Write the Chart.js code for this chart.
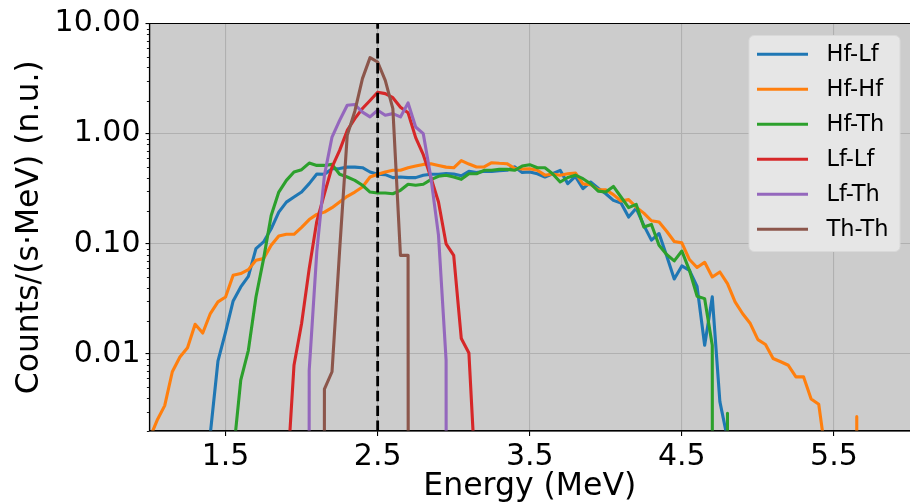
<!DOCTYPE html>
<html><head><meta charset="utf-8">
<script src="https://cdn.jsdelivr.net/npm/chart.js@4.4.0/dist/chart.umd.min.js"></script>
<style>html,body{margin:0;padding:0;background:#fff;}canvas{display:block;}</style>
</head><body>
<canvas id="c" width="910" height="504"></canvas>
<script>
// ---- data ----
const energies = [
  1.00,1.05,1.10,1.15,1.20,1.25,1.30,1.35,1.40,1.45,
  1.50,1.55,1.60,1.65,1.70,1.75,1.80,1.85,1.90,1.95,
  2.00,2.05,2.10,2.15,2.20,2.25,2.30,2.35,2.40,2.45,
  2.50,2.55,2.60,2.65,2.70,2.75,2.80,2.85,2.90,2.95,
  3.00,3.05,3.10,3.15,3.20,3.25,3.30,3.35,3.40,3.45,
  3.50,3.55,3.60,3.65,3.70,3.75,3.80,3.85,3.90,3.95,
  4.00,4.05,4.10,4.15,4.20,4.25,4.30,4.35,4.40,4.45,
  4.50,4.55,4.60,4.65,4.70,4.75,4.80,4.85,4.90,4.95,
  5.00,5.05,5.10,5.15,5.20,5.25,5.30,5.35,5.40,5.45,
  5.50,5.55,5.60,5.65,5.70,5.75,5.80,5.85,5.90,5.95
];
const hfLf = [
  0,0,0,0,0,0,0,0,0.0019,0.0086,
  0.0158,0.0303,0.0406,0.0507,0.0904,0.104,0.137,0.194,0.239,0.266,
  0.295,0.352,0.430,0.428,0.480,0.482,0.497,0.497,0.491,0.449,
  0.428,0.425,0.399,0.404,0.399,0.399,0.419,0.428,0.428,0.434,
  0.430,0.415,0.455,0.443,0.455,0.455,0.461,0.465,0.500,0.445,
  0.449,0.433,0.404,0.433,0.465,0.352,0.410,0.317,0.364,0.320,
  0.285,0.248,0.235,0.175,0.210,0.147,0.108,0.124,0.078,0.048,
  0.063,0.0575,0.041,0.012,0.033,0.0037,0.0017,0,0,0,
  0,0,0,0,0,0,0,0,0,0,
  0,0,0,0,0,0,0,0,0,0
];
const hfHf = [
  0.0017,0.0025,0.0034,0.0069,0.0094,0.0114,0.0186,0.0155,0.0233,0.0297,
  0.0329,0.0518,0.0537,0.0583,0.0709,0.0734,0.097,0.118,0.122,0.122,
  0.141,0.166,0.185,0.194,0.213,0.240,0.270,0.295,0.328,0.404,
  0.428,0.449,0.465,0.465,0.491,0.508,0.526,0.534,0.515,0.497,
  0.490,0.570,0.530,0.498,0.500,0.545,0.538,0.534,0.485,0.478,
  0.481,0.465,0.420,0.430,0.420,0.433,0.440,0.350,0.345,0.310,
  0.310,0.280,0.245,0.252,0.215,0.190,0.162,0.158,0.130,0.105,
  0.102,0.072,0.061,0.068,0.050,0.0555,0.0435,0.0297,0.0232,0.0189,
  0.0135,0.0122,0.0091,0.0085,0.0079,0.0062,0.0062,0.0039,0.0035,0.0011,
  0,0,0,0.0027,0,0,0,0,0,0
];
const hfTh = [
  0,0,0,0,0,0,0,0,0,0,
  0,0.0012,0.0058,0.0108,0.0329,0.073,0.181,0.295,0.377,0.449,
  0.471,0.541,0.515,0.515,0.526,0.428,0.404,0.377,0.340,0.295,
  0.289,0.289,0.285,0.306,0.347,0.340,0.347,0.383,0.410,0.419,
  0.404,0.385,0.433,0.433,0.465,0.465,0.474,0.474,0.465,0.508,
  0.523,0.490,0.490,0.433,0.364,0.400,0.420,0.390,0.351,0.301,
  0.295,0.332,0.266,0.213,0.228,0.142,0.150,0.097,0.080,0.070,
  0.086,0.0575,0.0335,0.0318,0.012,0,0.0029,0,0,0,
  0,0,0,0,0,0,0,0,0,0,
  0,0,0,0,0,0,0,0,0,0
];
const lfLf = [
  0,0,0,0,0,0,0,0,0,0,
  0,0,0,0,0,0,0,0,0.0006,0.0079,
  0.0189,0.0596,0.160,0.285,0.497,0.705,1.07,1.37,1.69,2.00,
  2.38,2.31,2.12,1.74,1.55,0.92,0.645,0.40,0.24,0.10,
  0.0787,0.0138,0.0102,0.0005,0,0,0,0,0,0,
  0,0,0,0,0,0,0,0,0,0,
  0,0,0,0,0,0,0,0,0,0,
  0,0,0,0,0,0,0,0,0,0,
  0,0,0,0,0,0,0,0,0,0,
  0,0,0,0,0,0,0,0,0,0
];
const lfTh = [
  0,0,0,0,0,0,0,0,0,0,
  0,0,0,0,0,0,0,0,0,0,
  0,0.0071,0.085,0.419,0.932,1.32,1.81,1.84,1.57,1.42,
  1.63,1.47,1.52,1.42,1.90,1.15,1.00,0.40,0.12,0.0088,
  0,0,0,0,0,0,0,0,0,0,
  0,0,0,0,0,0,0,0,0,0,
  0,0,0,0,0,0,0,0,0,0,
  0,0,0,0,0,0,0,0,0,0,
  0,0,0,0,0,0,0,0,0,0,
  0,0,0,0,0,0,0,0,0,0
];
const thTh = [
  0,0,0,0,0,0,0,0,0,0,
  0,0,0,0,0,0,0,0,0,0,
  0,0,0,0.0048,0.0069,0.0873,0.965,1.60,3.16,4.90,
  4.47,3.05,1.69,0.0786,0.0786,0,0,0,0,0,
  0,0,0,0,0,0,0,0,0,0,
  0,0,0,0,0,0,0,0,0,0,
  0,0,0,0,0,0,0,0,0,0,
  0,0,0,0,0,0,0,0,0,0,
  0,0,0,0,0,0,0,0,0,0,
  0,0,0,0,0,0,0,0,0,0
];
const seriesNames = ['Hf-Lf','Hf-Hf','Hf-Th','Lf-Lf','Lf-Th','Th-Th'];
const seriesValues = [hfLf, hfHf, hfTh, lfLf, lfTh, thTh];
const xTicks = [1.5, 2.5, 3.5, 4.5, 5.5];
const yTicks = [0.01, 0.1, 1, 10];
const refEnergy = 2.5;

// ---- styles ----
const seriesColors = ['#1f77b4','#ff7f0e','#2ca02c','#d62728','#9467bd','#8c564b'];
const FONT = 'DejaVu Sans';
const LW = 3.1;
const CLIPPED = 1e-100; // non-positive values are clipped far below the log axis (as matplotlib does)

const datasets = seriesNames.map((name, i) => ({
  label: name,
  data: energies.map((e, j) => ({ x: e, y: seriesValues[i][j] > 0 ? seriesValues[i][j] : CLIPPED })),
  borderColor: seriesColors[i],
  backgroundColor: seriesColors[i],
  borderWidth: LW,
  pointRadius: 0,
  pointHoverRadius: 0,
  fill: false,
  tension: 0,
  borderJoinStyle: 'round',
  borderCapStyle: 'butt',
  order: seriesNames.length - i,
  clip: 0
}));

const decor = {
  id: 'decor',
  beforeDraw(chart) {
    const { ctx, chartArea: a } = chart;
    ctx.save();
    ctx.fillStyle = '#cccccc';
    ctx.fillRect(a.left, a.top, a.right - a.left, a.bottom - a.top);
    ctx.restore();
  },
  afterDatasetsDraw(chart) {
    const { ctx, chartArea: a, scales } = chart;
    const x = scales.x.getPixelForValue(refEnergy);
    ctx.save();
    ctx.strokeStyle = '#000';
    ctx.lineWidth = 2.8;
    ctx.setLineDash([10.4, 4.5]);
    ctx.beginPath();
    ctx.moveTo(x, a.bottom);
    ctx.lineTo(x, a.top);
    ctx.stroke();
    ctx.restore();
  },
  afterDraw(chart) {
    const { ctx, chartArea: a, scales } = chart;
    ctx.save();
    // frame (top + left + bottom spines)
    ctx.strokeStyle = '#000';
    ctx.lineWidth = 1.2;
    ctx.beginPath();
    ctx.moveTo(a.left, a.bottom); ctx.lineTo(a.left, a.top); ctx.lineTo(a.right, a.top);
    ctx.moveTo(a.left, a.bottom); ctx.lineTo(a.right, a.bottom);
    ctx.stroke();
    // minor log ticks
    ctx.lineWidth = 0.9;
    const ys = scales.y;
    for (let d = -3; d <= 1; d++) {
      for (let m = 2; m <= 9; m++) {
        const v = m * Math.pow(10, d);
        if (v < ys.min || v > ys.max) continue;
        const py = Math.round(ys.getPixelForValue(v)) + 0.5;
        ctx.beginPath();
        ctx.moveTo(a.left - 2.6, py); ctx.lineTo(a.left, py);
        ctx.stroke();
      }
    }
    // legend
    const bx = 749, by = 35.5, bw = 151, bh = 216, r = 5;
    ctx.beginPath();
    ctx.moveTo(bx + r, by);
    ctx.arcTo(bx + bw, by, bx + bw, by + bh, r);
    ctx.arcTo(bx + bw, by + bh, bx, by + bh, r);
    ctx.arcTo(bx, by + bh, bx, by, r);
    ctx.arcTo(bx, by, bx + bw, by, r);
    ctx.closePath();
    ctx.fillStyle = '#e6e6e6';
    ctx.fill();
    ctx.strokeStyle = '#d9d9d9';
    ctx.lineWidth = 1;
    ctx.stroke();
    ctx.font = '22.5px "' + FONT + '"';
    ctx.textBaseline = 'middle';
    ctx.textAlign = 'left';
    chart.data.datasets.forEach((ds, i) => {
      const ly = 54.3 + 35 * i;
      ctx.strokeStyle = ds.borderColor;
      ctx.lineWidth = LW;
      ctx.beginPath();
      ctx.moveTo(757, ly); ctx.lineTo(808, ly);
      ctx.stroke();
      ctx.fillStyle = '#000';
      ctx.fillText(ds.label, 826.5, ly + 1);
    });
    ctx.restore();
  }
};

new Chart(document.getElementById('c'), {
  type: 'line',
  data: { datasets },
  options: {
    responsive: false,
    devicePixelRatio: 1,
    animation: false,
    events: [],
    layout: { padding: { top: 23.5, right: -3, bottom: 0, left: 0 } },
    plugins: { legend: { display: false }, tooltip: { enabled: false } },
    scales: {
      x: {
        type: 'linear', min: 1.0, max: 6.0,
        afterBuildTicks: s => { s.ticks = xTicks.map(v => ({ value: v })); },
        afterFit: s => { s.height = 73; },
        ticks: { callback: v => Number(v).toFixed(1), font: { family: FONT, size: 30 }, color: '#000', padding: 3.5, maxRotation: 0, autoSkip: false },
        grid: { color: '#b0b0b0', lineWidth: 1.1, tickColor: '#000', tickLength: 5, tickWidth: 1.1 },
        border: { color: '#000', width: 1.2 },
        title: { display: true, text: 'Energy (MeV)', font: { family: FONT, size: 31.5 }, color: '#000', padding: { top: 0, bottom: -1.5 } }
      },
      y: {
        type: 'logarithmic', min: 0.002, max: 10,
        afterBuildTicks: s => { s.ticks = yTicks.map(v => ({ value: v })); },
        afterFit: s => { s.width = 149.5; },
        ticks: { callback: v => Number(v).toFixed(2), font: { family: FONT, size: 30 }, color: '#000', padding: 5, autoSkip: false },
        grid: { color: '#b0b0b0', lineWidth: 1.1, tickColor: '#000', tickLength: 4, tickWidth: 1.1 },
        border: { color: '#000', width: 1.2 },
        title: { display: true, text: 'Counts/(s·MeV) (n.u.)', font: { family: FONT, size: 31.5 }, color: '#000', padding: { top: 11, bottom: 0 } }
      }
    }
  },
  plugins: [decor]
});
</script>
</body></html>
